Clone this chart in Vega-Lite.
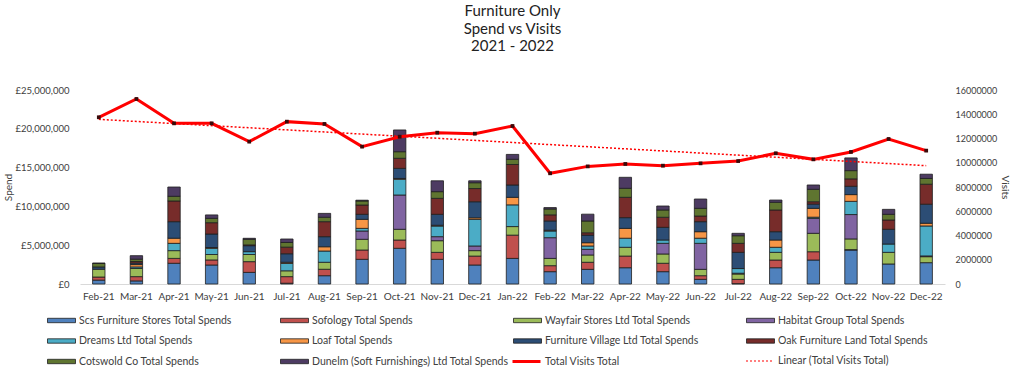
{
  "$schema": "https://vega.github.io/schema/vega-lite/v6.json",
  "width": 865,
  "height": 194,
  "autosize": {"type": "none"},
  "padding": {"left": 80, "top": 90, "right": 79, "bottom": 93},
  "background": "white",
  "title": {
    "text": ["Furniture Only", "Spend vs Visits", "2021 - 2022"],
    "fontSize": 15,
    "lineHeight": 17.5,
    "fontWeight": "normal",
    "font": "Lato",
    "color": "#222222",
    "anchor": "middle",
    "offset": 31
  },
  "config": {
    "font": "Lato",
    "view": {"stroke": null},
    "axis": {"labelFont": "Lato", "titleFont": "Lato", "labelColor": "#404040", "titleColor": "#404040", "titleFontWeight": "normal", "grid": false},
    "legend": {"labelFont": "Lato", "labelColor": "#404040", "labelFontSize": 10.5, "title": null, "orient": "none"}
  },
  "datasets": {
    "series": [
      {"retailer": "Scs Furniture Stores Total Spends", "rank": 1},
      {"retailer": "Sofology Total Spends", "rank": 2},
      {"retailer": "Wayfair Stores Ltd Total Spends", "rank": 3},
      {"retailer": "Habitat Group Total Spends", "rank": 4},
      {"retailer": "Dreams Ltd Total Spends", "rank": 5},
      {"retailer": "Loaf Total Spends", "rank": 6},
      {"retailer": "Furniture Village Ltd Total Spends", "rank": 7},
      {"retailer": "Oak Furniture Land Total Spends", "rank": 8},
      {"retailer": "Cotswold Co Total Spends", "rank": 9},
      {"retailer": "Dunelm (Soft Furnishings) Ltd Total Spends", "rank": 10}
    ],
    "spend": [
      {"month": "Feb-21", "retailer": "Scs Furniture Stores Total Spends", "spend": 500000},
      {"month": "Feb-21", "retailer": "Sofology Total Spends", "spend": 400000},
      {"month": "Feb-21", "retailer": "Wayfair Stores Ltd Total Spends", "spend": 1000000},
      {"month": "Feb-21", "retailer": "Furniture Village Ltd Total Spends", "spend": 300000},
      {"month": "Feb-21", "retailer": "Cotswold Co Total Spends", "spend": 450000},
      {"month": "Feb-21", "retailer": "Dunelm (Soft Furnishings) Ltd Total Spends", "spend": 50000},

      {"month": "Mar-21", "retailer": "Scs Furniture Stores Total Spends", "spend": 400000},
      {"month": "Mar-21", "retailer": "Sofology Total Spends", "spend": 550000},
      {"month": "Mar-21", "retailer": "Wayfair Stores Ltd Total Spends", "spend": 1050000},
      {"month": "Mar-21", "retailer": "Dreams Ltd Total Spends", "spend": 200000},
      {"month": "Mar-21", "retailer": "Loaf Total Spends", "spend": 300000},
      {"month": "Mar-21", "retailer": "Furniture Village Ltd Total Spends", "spend": 200000},
      {"month": "Mar-21", "retailer": "Oak Furniture Land Total Spends", "spend": 200000},
      {"month": "Mar-21", "retailer": "Cotswold Co Total Spends", "spend": 300000},
      {"month": "Mar-21", "retailer": "Dunelm (Soft Furnishings) Ltd Total Spends", "spend": 450000},

      {"month": "Apr-21", "retailer": "Scs Furniture Stores Total Spends", "spend": 2670000},
      {"month": "Apr-21", "retailer": "Sofology Total Spends", "spend": 630000},
      {"month": "Apr-21", "retailer": "Wayfair Stores Ltd Total Spends", "spend": 1000000},
      {"month": "Apr-21", "retailer": "Dreams Ltd Total Spends", "spend": 940000},
      {"month": "Apr-21", "retailer": "Loaf Total Spends", "spend": 660000},
      {"month": "Apr-21", "retailer": "Furniture Village Ltd Total Spends", "spend": 2130000},
      {"month": "Apr-21", "retailer": "Oak Furniture Land Total Spends", "spend": 2670000},
      {"month": "Apr-21", "retailer": "Cotswold Co Total Spends", "spend": 600000},
      {"month": "Apr-21", "retailer": "Dunelm (Soft Furnishings) Ltd Total Spends", "spend": 1200000},

      {"month": "May-21", "retailer": "Scs Furniture Stores Total Spends", "spend": 2450000},
      {"month": "May-21", "retailer": "Sofology Total Spends", "spend": 650000},
      {"month": "May-21", "retailer": "Wayfair Stores Ltd Total Spends", "spend": 700000},
      {"month": "May-21", "retailer": "Dreams Ltd Total Spends", "spend": 800000},
      {"month": "May-21", "retailer": "Loaf Total Spends", "spend": 100000},
      {"month": "May-21", "retailer": "Furniture Village Ltd Total Spends", "spend": 1740000},
      {"month": "May-21", "retailer": "Oak Furniture Land Total Spends", "spend": 1460000},
      {"month": "May-21", "retailer": "Cotswold Co Total Spends", "spend": 560000},
      {"month": "May-21", "retailer": "Dunelm (Soft Furnishings) Ltd Total Spends", "spend": 440000},

      {"month": "Jun-21", "retailer": "Scs Furniture Stores Total Spends", "spend": 1500000},
      {"month": "Jun-21", "retailer": "Sofology Total Spends", "spend": 1380000},
      {"month": "Jun-21", "retailer": "Wayfair Stores Ltd Total Spends", "spend": 920000},
      {"month": "Jun-21", "retailer": "Dreams Ltd Total Spends", "spend": 370000},
      {"month": "Jun-21", "retailer": "Furniture Village Ltd Total Spends", "spend": 770000},
      {"month": "Jun-21", "retailer": "Oak Furniture Land Total Spends", "spend": 100000},
      {"month": "Jun-21", "retailer": "Cotswold Co Total Spends", "spend": 720000},
      {"month": "Jun-21", "retailer": "Dunelm (Soft Furnishings) Ltd Total Spends", "spend": 130000},

      {"month": "Jul-21", "retailer": "Scs Furniture Stores Total Spends", "spend": 100000},
      {"month": "Jul-21", "retailer": "Sofology Total Spends", "spend": 850000},
      {"month": "Jul-21", "retailer": "Wayfair Stores Ltd Total Spends", "spend": 750000},
      {"month": "Jul-21", "retailer": "Dreams Ltd Total Spends", "spend": 950000},
      {"month": "Jul-21", "retailer": "Loaf Total Spends", "spend": 150000},
      {"month": "Jul-21", "retailer": "Furniture Village Ltd Total Spends", "spend": 1100000},
      {"month": "Jul-21", "retailer": "Oak Furniture Land Total Spends", "spend": 850000},
      {"month": "Jul-21", "retailer": "Cotswold Co Total Spends", "spend": 600000},
      {"month": "Jul-21", "retailer": "Dunelm (Soft Furnishings) Ltd Total Spends", "spend": 450000},

      {"month": "Aug-21", "retailer": "Scs Furniture Stores Total Spends", "spend": 1070000},
      {"month": "Aug-21", "retailer": "Sofology Total Spends", "spend": 830000},
      {"month": "Aug-21", "retailer": "Wayfair Stores Ltd Total Spends", "spend": 900000},
      {"month": "Aug-21", "retailer": "Dreams Ltd Total Spends", "spend": 1450000},
      {"month": "Aug-21", "retailer": "Loaf Total Spends", "spend": 550000},
      {"month": "Aug-21", "retailer": "Furniture Village Ltd Total Spends", "spend": 1300000},
      {"month": "Aug-21", "retailer": "Oak Furniture Land Total Spends", "spend": 1930000},
      {"month": "Aug-21", "retailer": "Cotswold Co Total Spends", "spend": 570000},
      {"month": "Aug-21", "retailer": "Dunelm (Soft Furnishings) Ltd Total Spends", "spend": 500000},

      {"month": "Sep-21", "retailer": "Scs Furniture Stores Total Spends", "spend": 3180000},
      {"month": "Sep-21", "retailer": "Sofology Total Spends", "spend": 1200000},
      {"month": "Sep-21", "retailer": "Wayfair Stores Ltd Total Spends", "spend": 1380000},
      {"month": "Sep-21", "retailer": "Habitat Group Total Spends", "spend": 1070000},
      {"month": "Sep-21", "retailer": "Dreams Ltd Total Spends", "spend": 340000},
      {"month": "Sep-21", "retailer": "Loaf Total Spends", "spend": 1160000},
      {"month": "Sep-21", "retailer": "Furniture Village Ltd Total Spends", "spend": 650000},
      {"month": "Sep-21", "retailer": "Oak Furniture Land Total Spends", "spend": 1200000},
      {"month": "Sep-21", "retailer": "Cotswold Co Total Spends", "spend": 520000},
      {"month": "Sep-21", "retailer": "Dunelm (Soft Furnishings) Ltd Total Spends", "spend": 100000},

      {"month": "Oct-21", "retailer": "Scs Furniture Stores Total Spends", "spend": 4600000},
      {"month": "Oct-21", "retailer": "Sofology Total Spends", "spend": 1070000},
      {"month": "Oct-21", "retailer": "Wayfair Stores Ltd Total Spends", "spend": 1380000},
      {"month": "Oct-21", "retailer": "Habitat Group Total Spends", "spend": 4420000},
      {"month": "Oct-21", "retailer": "Dreams Ltd Total Spends", "spend": 2030000},
      {"month": "Oct-21", "retailer": "Loaf Total Spends", "spend": 100000},
      {"month": "Oct-21", "retailer": "Furniture Village Ltd Total Spends", "spend": 1300000},
      {"month": "Oct-21", "retailer": "Oak Furniture Land Total Spends", "spend": 1300000},
      {"month": "Oct-21", "retailer": "Cotswold Co Total Spends", "spend": 850000},
      {"month": "Oct-21", "retailer": "Dunelm (Soft Furnishings) Ltd Total Spends", "spend": 2800000},

      {"month": "Nov-21", "retailer": "Scs Furniture Stores Total Spends", "spend": 3180000},
      {"month": "Nov-21", "retailer": "Sofology Total Spends", "spend": 900000},
      {"month": "Nov-21", "retailer": "Wayfair Stores Ltd Total Spends", "spend": 1500000},
      {"month": "Nov-21", "retailer": "Habitat Group Total Spends", "spend": 520000},
      {"month": "Nov-21", "retailer": "Dreams Ltd Total Spends", "spend": 1370000},
      {"month": "Nov-21", "retailer": "Loaf Total Spends", "spend": 100000},
      {"month": "Nov-21", "retailer": "Furniture Village Ltd Total Spends", "spend": 1410000},
      {"month": "Nov-21", "retailer": "Oak Furniture Land Total Spends", "spend": 2060000},
      {"month": "Nov-21", "retailer": "Cotswold Co Total Spends", "spend": 860000},
      {"month": "Nov-21", "retailer": "Dunelm (Soft Furnishings) Ltd Total Spends", "spend": 1400000},

      {"month": "Dec-21", "retailer": "Scs Furniture Stores Total Spends", "spend": 2450000},
      {"month": "Dec-21", "retailer": "Sofology Total Spends", "spend": 1150000},
      {"month": "Dec-21", "retailer": "Wayfair Stores Ltd Total Spends", "spend": 700000},
      {"month": "Dec-21", "retailer": "Habitat Group Total Spends", "spend": 600000},
      {"month": "Dec-21", "retailer": "Dreams Ltd Total Spends", "spend": 3430000},
      {"month": "Dec-21", "retailer": "Loaf Total Spends", "spend": 200000},
      {"month": "Dec-21", "retailer": "Furniture Village Ltd Total Spends", "spend": 2070000},
      {"month": "Dec-21", "retailer": "Oak Furniture Land Total Spends", "spend": 1700000},
      {"month": "Dec-21", "retailer": "Cotswold Co Total Spends", "spend": 750000},
      {"month": "Dec-21", "retailer": "Dunelm (Soft Furnishings) Ltd Total Spends", "spend": 250000},

      {"month": "Jan-22", "retailer": "Scs Furniture Stores Total Spends", "spend": 3300000},
      {"month": "Jan-22", "retailer": "Sofology Total Spends", "spend": 3000000},
      {"month": "Jan-22", "retailer": "Wayfair Stores Ltd Total Spends", "spend": 1100000},
      {"month": "Jan-22", "retailer": "Dreams Ltd Total Spends", "spend": 2800000},
      {"month": "Jan-22", "retailer": "Loaf Total Spends", "spend": 970000},
      {"month": "Jan-22", "retailer": "Furniture Village Ltd Total Spends", "spend": 1590000},
      {"month": "Jan-22", "retailer": "Oak Furniture Land Total Spends", "spend": 2640000},
      {"month": "Jan-22", "retailer": "Cotswold Co Total Spends", "spend": 670000},
      {"month": "Jan-22", "retailer": "Dunelm (Soft Furnishings) Ltd Total Spends", "spend": 630000},

      {"month": "Feb-22", "retailer": "Scs Furniture Stores Total Spends", "spend": 1590000},
      {"month": "Feb-22", "retailer": "Sofology Total Spends", "spend": 770000},
      {"month": "Feb-22", "retailer": "Wayfair Stores Ltd Total Spends", "spend": 940000},
      {"month": "Feb-22", "retailer": "Habitat Group Total Spends", "spend": 2670000},
      {"month": "Feb-22", "retailer": "Dreams Ltd Total Spends", "spend": 860000},
      {"month": "Feb-22", "retailer": "Loaf Total Spends", "spend": 100000},
      {"month": "Feb-22", "retailer": "Furniture Village Ltd Total Spends", "spend": 1200000},
      {"month": "Feb-22", "retailer": "Oak Furniture Land Total Spends", "spend": 780000},
      {"month": "Feb-22", "retailer": "Cotswold Co Total Spends", "spend": 760000},
      {"month": "Feb-22", "retailer": "Dunelm (Soft Furnishings) Ltd Total Spends", "spend": 180000},

      {"month": "Mar-22", "retailer": "Scs Furniture Stores Total Spends", "spend": 1890000},
      {"month": "Mar-22", "retailer": "Sofology Total Spends", "spend": 910000},
      {"month": "Mar-22", "retailer": "Wayfair Stores Ltd Total Spends", "spend": 940000},
      {"month": "Mar-22", "retailer": "Habitat Group Total Spends", "spend": 730000},
      {"month": "Mar-22", "retailer": "Dreams Ltd Total Spends", "spend": 430000},
      {"month": "Mar-22", "retailer": "Loaf Total Spends", "spend": 420000},
      {"month": "Mar-22", "retailer": "Furniture Village Ltd Total Spends", "spend": 980000},
      {"month": "Mar-22", "retailer": "Oak Furniture Land Total Spends", "spend": 300000},
      {"month": "Mar-22", "retailer": "Cotswold Co Total Spends", "spend": 1520000},
      {"month": "Mar-22", "retailer": "Dunelm (Soft Furnishings) Ltd Total Spends", "spend": 880000},

      {"month": "Apr-22", "retailer": "Scs Furniture Stores Total Spends", "spend": 2100000},
      {"month": "Apr-22", "retailer": "Sofology Total Spends", "spend": 1500000},
      {"month": "Apr-22", "retailer": "Wayfair Stores Ltd Total Spends", "spend": 1130000},
      {"month": "Apr-22", "retailer": "Dreams Ltd Total Spends", "spend": 1170000},
      {"month": "Apr-22", "retailer": "Loaf Total Spends", "spend": 1270000},
      {"month": "Apr-22", "retailer": "Furniture Village Ltd Total Spends", "spend": 1380000},
      {"month": "Apr-22", "retailer": "Oak Furniture Land Total Spends", "spend": 2620000},
      {"month": "Apr-22", "retailer": "Cotswold Co Total Spends", "spend": 1160000},
      {"month": "Apr-22", "retailer": "Dunelm (Soft Furnishings) Ltd Total Spends", "spend": 1420000},

      {"month": "May-22", "retailer": "Scs Furniture Stores Total Spends", "spend": 1590000},
      {"month": "May-22", "retailer": "Sofology Total Spends", "spend": 1080000},
      {"month": "May-22", "retailer": "Wayfair Stores Ltd Total Spends", "spend": 1200000},
      {"month": "May-22", "retailer": "Habitat Group Total Spends", "spend": 1370000},
      {"month": "May-22", "retailer": "Dreams Ltd Total Spends", "spend": 430000},
      {"month": "May-22", "retailer": "Furniture Village Ltd Total Spends", "spend": 1630000},
      {"month": "May-22", "retailer": "Oak Furniture Land Total Spends", "spend": 1300000},
      {"month": "May-22", "retailer": "Cotswold Co Total Spends", "spend": 940000},
      {"month": "May-22", "retailer": "Dunelm (Soft Furnishings) Ltd Total Spends", "spend": 510000},

      {"month": "Jun-22", "retailer": "Scs Furniture Stores Total Spends", "spend": 600000},
      {"month": "Jun-22", "retailer": "Sofology Total Spends", "spend": 470000},
      {"month": "Jun-22", "retailer": "Wayfair Stores Ltd Total Spends", "spend": 820000},
      {"month": "Jun-22", "retailer": "Habitat Group Total Spends", "spend": 3350000},
      {"month": "Jun-22", "retailer": "Dreams Ltd Total Spends", "spend": 660000},
      {"month": "Jun-22", "retailer": "Loaf Total Spends", "spend": 840000},
      {"month": "Jun-22", "retailer": "Furniture Village Ltd Total Spends", "spend": 1290000},
      {"month": "Jun-22", "retailer": "Oak Furniture Land Total Spends", "spend": 730000},
      {"month": "Jun-22", "retailer": "Cotswold Co Total Spends", "spend": 990000},
      {"month": "Jun-22", "retailer": "Dunelm (Soft Furnishings) Ltd Total Spends", "spend": 1200000},

      {"month": "Jul-22", "retailer": "Scs Furniture Stores Total Spends", "spend": 50000},
      {"month": "Jul-22", "retailer": "Sofology Total Spends", "spend": 550000},
      {"month": "Jul-22", "retailer": "Wayfair Stores Ltd Total Spends", "spend": 690000},
      {"month": "Jul-22", "retailer": "Habitat Group Total Spends", "spend": 100000},
      {"month": "Jul-22", "retailer": "Dreams Ltd Total Spends", "spend": 600000},
      {"month": "Jul-22", "retailer": "Furniture Village Ltd Total Spends", "spend": 2090000},
      {"month": "Jul-22", "retailer": "Oak Furniture Land Total Spends", "spend": 1160000},
      {"month": "Jul-22", "retailer": "Cotswold Co Total Spends", "spend": 980000},
      {"month": "Jul-22", "retailer": "Dunelm (Soft Furnishings) Ltd Total Spends", "spend": 310000},

      {"month": "Aug-22", "retailer": "Scs Furniture Stores Total Spends", "spend": 2100000},
      {"month": "Aug-22", "retailer": "Sofology Total Spends", "spend": 990000},
      {"month": "Aug-22", "retailer": "Wayfair Stores Ltd Total Spends", "spend": 990000},
      {"month": "Aug-22", "retailer": "Dreams Ltd Total Spends", "spend": 650000},
      {"month": "Aug-22", "retailer": "Loaf Total Spends", "spend": 940000},
      {"month": "Aug-22", "retailer": "Furniture Village Ltd Total Spends", "spend": 1070000},
      {"month": "Aug-22", "retailer": "Oak Furniture Land Total Spends", "spend": 2800000},
      {"month": "Aug-22", "retailer": "Cotswold Co Total Spends", "spend": 990000},
      {"month": "Aug-22", "retailer": "Dunelm (Soft Furnishings) Ltd Total Spends", "spend": 290000},

      {"month": "Sep-22", "retailer": "Scs Furniture Stores Total Spends", "spend": 3090000},
      {"month": "Sep-22", "retailer": "Sofology Total Spends", "spend": 1070000},
      {"month": "Sep-22", "retailer": "Wayfair Stores Ltd Total Spends", "spend": 2370000},
      {"month": "Sep-22", "retailer": "Habitat Group Total Spends", "spend": 1930000},
      {"month": "Sep-22", "retailer": "Dreams Ltd Total Spends", "spend": 150000},
      {"month": "Sep-22", "retailer": "Loaf Total Spends", "spend": 1140000},
      {"month": "Sep-22", "retailer": "Furniture Village Ltd Total Spends", "spend": 550000},
      {"month": "Sep-22", "retailer": "Oak Furniture Land Total Spends", "spend": 300000},
      {"month": "Sep-22", "retailer": "Cotswold Co Total Spends", "spend": 1600000},
      {"month": "Sep-22", "retailer": "Dunelm (Soft Furnishings) Ltd Total Spends", "spend": 560000},

      {"month": "Oct-22", "retailer": "Scs Furniture Stores Total Spends", "spend": 4380000},
      {"month": "Oct-22", "retailer": "Sofology Total Spends", "spend": 50000},
      {"month": "Oct-22", "retailer": "Wayfair Stores Ltd Total Spends", "spend": 1380000},
      {"month": "Oct-22", "retailer": "Habitat Group Total Spends", "spend": 3140000},
      {"month": "Oct-22", "retailer": "Dreams Ltd Total Spends", "spend": 1700000},
      {"month": "Oct-22", "retailer": "Loaf Total Spends", "spend": 870000},
      {"month": "Oct-22", "retailer": "Furniture Village Ltd Total Spends", "spend": 1070000},
      {"month": "Oct-22", "retailer": "Oak Furniture Land Total Spends", "spend": 960000},
      {"month": "Oct-22", "retailer": "Cotswold Co Total Spends", "spend": 1060000},
      {"month": "Oct-22", "retailer": "Dunelm (Soft Furnishings) Ltd Total Spends", "spend": 1640000},

      {"month": "Nov-22", "retailer": "Scs Furniture Stores Total Spends", "spend": 2580000},
      {"month": "Nov-22", "retailer": "Wayfair Stores Ltd Total Spends", "spend": 1500000},
      {"month": "Nov-22", "retailer": "Dreams Ltd Total Spends", "spend": 1070000},
      {"month": "Nov-22", "retailer": "Furniture Village Ltd Total Spends", "spend": 1900000},
      {"month": "Nov-22", "retailer": "Oak Furniture Land Total Spends", "spend": 1200000},
      {"month": "Nov-22", "retailer": "Cotswold Co Total Spends", "spend": 730000},
      {"month": "Nov-22", "retailer": "Dunelm (Soft Furnishings) Ltd Total Spends", "spend": 640000},

      {"month": "Dec-22", "retailer": "Scs Furniture Stores Total Spends", "spend": 2750000},
      {"month": "Dec-22", "retailer": "Wayfair Stores Ltd Total Spends", "spend": 770000},
      {"month": "Dec-22", "retailer": "Habitat Group Total Spends", "spend": 100000},
      {"month": "Dec-22", "retailer": "Dreams Ltd Total Spends", "spend": 3860000},
      {"month": "Dec-22", "retailer": "Loaf Total Spends", "spend": 350000},
      {"month": "Dec-22", "retailer": "Furniture Village Ltd Total Spends", "spend": 2450000},
      {"month": "Dec-22", "retailer": "Oak Furniture Land Total Spends", "spend": 2580000},
      {"month": "Dec-22", "retailer": "Cotswold Co Total Spends", "spend": 740000},
      {"month": "Dec-22", "retailer": "Dunelm (Soft Furnishings) Ltd Total Spends", "spend": 550000}
    ],
    "visits": [
      {"month": "Feb-21", "visits": 13750000},
      {"month": "Mar-21", "visits": 15260000},
      {"month": "Apr-21", "visits": 13250000},
      {"month": "May-21", "visits": 13250000},
      {"month": "Jun-21", "visits": 11740000},
      {"month": "Jul-21", "visits": 13390000},
      {"month": "Aug-21", "visits": 13200000},
      {"month": "Sep-21", "visits": 11330000},
      {"month": "Oct-21", "visits": 12150000},
      {"month": "Nov-21", "visits": 12480000},
      {"month": "Dec-21", "visits": 12400000},
      {"month": "Jan-22", "visits": 13030000},
      {"month": "Feb-22", "visits": 9130000},
      {"month": "Mar-22", "visits": 9700000},
      {"month": "Apr-22", "visits": 9900000},
      {"month": "May-22", "visits": 9760000},
      {"month": "Jun-22", "visits": 9950000},
      {"month": "Jul-22", "visits": 10140000},
      {"month": "Aug-22", "visits": 10780000},
      {"month": "Sep-22", "visits": 10280000},
      {"month": "Oct-22", "visits": 10890000},
      {"month": "Nov-22", "visits": 11960000},
      {"month": "Dec-22", "visits": 11000000}
    ],
    "trend": [
      {"month": "Feb-21", "trend": 13580000},
      {"month": "Dec-22", "trend": 9760000}
    ]
  },
  "encoding": {
    "x": {
      "field": "month",
      "type": "ordinal",
      "scale": {
        "domain": ["Feb-21", "Mar-21", "Apr-21", "May-21", "Jun-21", "Jul-21", "Aug-21", "Sep-21", "Oct-21", "Nov-21", "Dec-21", "Jan-22", "Feb-22", "Mar-22", "Apr-22", "May-22", "Jun-22", "Jul-22", "Aug-22", "Sep-22", "Oct-22", "Nov-22", "Dec-22"],
        "paddingInner": 0.67,
        "paddingOuter": 0.335
      },
      "axis": {
        "title": null,
        "labelAngle": 0,
        "labelFontSize": 10,
        "labelPadding": 7,
        "ticks": false,
        "domainColor": "#d9d9d9",
        "domainWidth": 1
      }
    }
  },
  "layer": [
    {
      "data": {"name": "spend"},
      "transform": [
        {"lookup": "retailer", "from": {"data": {"name": "series"}, "key": "retailer", "fields": ["rank"]}}
      ],
      "mark": {"type": "bar", "stroke": "#1e1e1e", "strokeWidth": 0.8},
      "encoding": {
        "y": {
          "field": "spend",
          "type": "quantitative",
          "aggregate": "sum",
          "stack": "zero",
          "scale": {"domain": [0, 25000000], "nice": false},
          "axis": {
            "title": "Spend",
            "titleFontSize": 10,
            "titlePadding": 2,
            "labelFontSize": 9.5,
            "labelPadding": 11,
            "ticks": false,
            "domain": false,
            "values": [0, 5000000, 10000000, 15000000, 20000000, 25000000],
            "labelExpr": "'£' + format(datum.value, ',')"
          }
        },
        "order": {"field": "rank", "type": "quantitative", "sort": "ascending"},
        "color": {
          "field": "retailer",
          "type": "nominal",
          "scale": {
            "domain": [
              "Scs Furniture Stores Total Spends", "Sofology Total Spends", "Wayfair Stores Ltd Total Spends", "Habitat Group Total Spends",
              "Dreams Ltd Total Spends", "Loaf Total Spends", "Furniture Village Ltd Total Spends", "Oak Furniture Land Total Spends",
              "Cotswold Co Total Spends", "Dunelm (Soft Furnishings) Ltd Total Spends"
            ],
            "range": ["#4F81BD", "#C0504D", "#9BBB59", "#8064A2", "#4BACC6", "#F79646", "#2C4D75", "#772C2A", "#5F7530", "#4D3B62"]
          },
          "legend": {
            "legendX": -29,
            "legendY": 220,
            "direction": "horizontal",
            "columns": 4,
            "gridAlign": "all",
            "columnPadding": 2,
            "rowPadding": 4.5,
            "labelOffset": 7,
            "symbolSize": 400,
            "symbolType": "M-1.4,-0.22H1.4V0.22H-1.4Z",
            "symbolStrokeColor": "#1e1e1e",
            "symbolStrokeWidth": 0.8,
            "labelLimit": 300
          }
        }
      }
    },
    {
      "data": {"name": "trend"},
      "mark": {"type": "line", "strokeWidth": 1.5, "color": "#FF0000"},
      "encoding": {
        "y": {"field": "trend", "type": "quantitative", "scale": {"domain": [0, 16000000], "nice": false}, "axis": null},
        "strokeDash": {
          "datum": "Linear (Total Visits Total)",
          "scale": {"range": [[2, 2]]},
          "legend": {
            "legendX": 665,
            "legendY": 256,
            "symbolSize": 784,
            "symbolType": "stroke",
            "symbolStrokeColor": "#FF0000",
            "symbolStrokeWidth": 1.2,
            "symbolDash": [1.5, 1.5],
            "labelOffset": 3
          }
        }
      }
    },
    {
      "data": {"name": "visits"},
      "mark": {"type": "line", "strokeWidth": 3},
      "encoding": {
        "y": {
          "field": "visits",
          "type": "quantitative",
          "scale": {"domain": [0, 16000000], "nice": false},
          "axis": {
            "orient": "right",
            "title": "Visits",
            "titleFontSize": 10,
            "titlePadding": 3,
            "labelFontSize": 9,
            "labelPadding": 10,
            "labelOverlap": false,
            "ticks": false,
            "domain": false,
            "values": [0, 2000000, 4000000, 6000000, 8000000, 10000000, 12000000, 14000000, 16000000],
            "format": "d"
          }
        },
        "stroke": {
          "datum": "Total Visits Total",
          "scale": {"range": ["#FF0000"]},
          "legend": {
            "legendX": 431,
            "legendY": 256,
            "symbolSize": 784,
            "symbolType": "stroke",
            "symbolStrokeWidth": 3,
            "labelOffset": 3
          }
        }
      }
    },
    {
      "data": {"name": "visits"},
      "mark": {"type": "square", "size": 14, "color": "#3a0a0a", "opacity": 1},
      "encoding": {
        "y": {"field": "visits", "type": "quantitative", "scale": {"domain": [0, 16000000], "nice": false}, "axis": null}
      }
    }
  ],
  "resolve": {"scale": {"y": "independent"}}
}
